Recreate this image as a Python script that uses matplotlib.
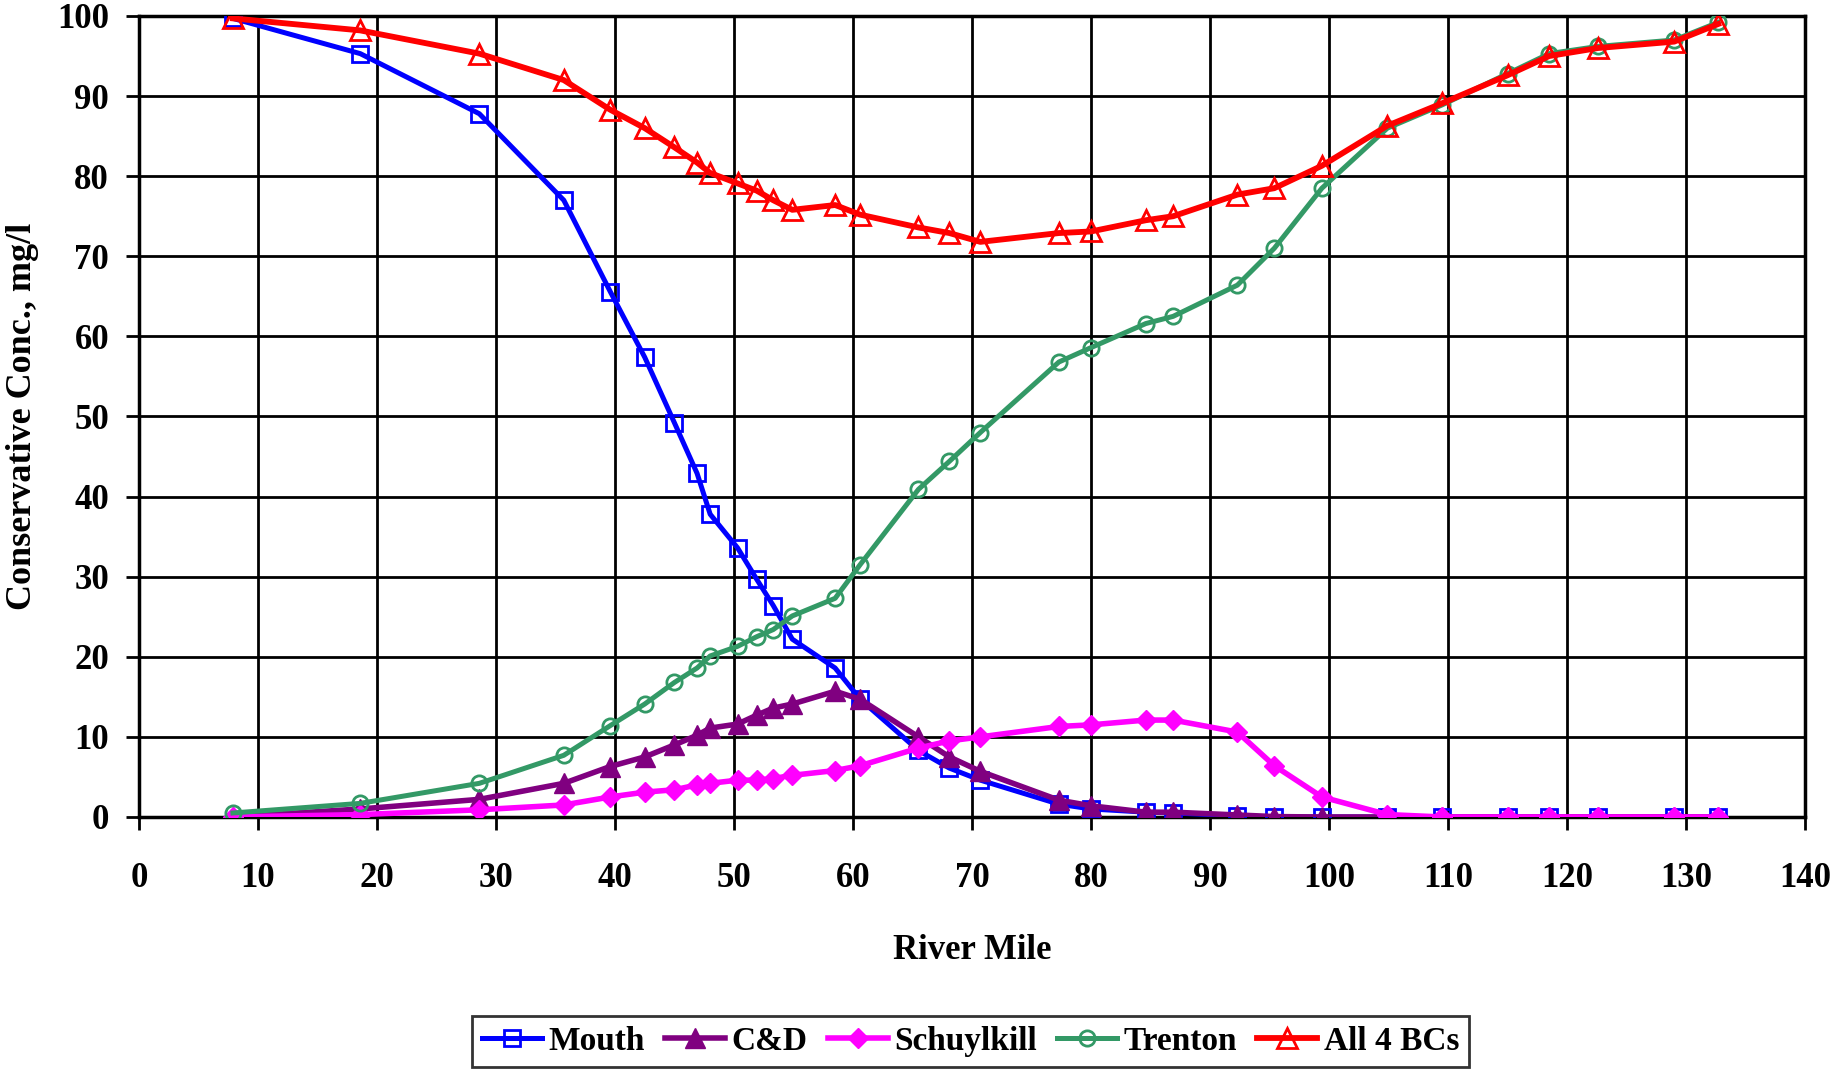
import matplotlib
matplotlib.use("Agg")
import matplotlib.pyplot as plt

plt.rcParams['font.family'] = ['Liberation Serif', 'DejaVu Serif']
plt.rcParams['font.weight'] = 'bold'

# river mile of each model output point
miles = [7.9, 18.6, 28.6, 35.7, 39.6, 42.5, 45.0, 46.9, 48.0, 50.3, 51.9, 53.3,
         54.9, 58.5, 60.6, 65.5, 68.1, 70.7, 77.3, 80.0, 84.6, 86.9, 92.3, 95.4,
         99.4, 104.9, 109.5, 115.0, 118.5, 122.6, 129.0, 132.7]

mouth = [99.7, 95.3, 87.8, 77.0, 65.6, 57.4, 49.2, 42.9, 37.8, 33.6, 29.7, 26.4,
         22.2, 18.6, 14.7, 8.3, 6.1, 4.6, 1.6, 1.0, 0.6, 0.5, 0.15, 0.0,
         0.0, 0.0, 0.0, 0.0, 0.0, 0.0, 0.0, 0.0]

cd = [0.0, 1.0, 2.2, 4.2, 6.3, 7.5, 9.0, 10.2, 11.1, 11.6, 12.7, 13.6,
      14.1, 15.7, 14.7, 10.0, 7.5, 5.7, 2.1, 1.4, 0.6, 0.6, 0.25, 0.05,
      0.0, 0.0, 0.0, 0.0, 0.0, 0.0, 0.0, 0.0]

schuylkill = [0.0, 0.3, 0.9, 1.5, 2.5, 3.1, 3.4, 4.0, 4.2, 4.6, 4.6, 4.8,
              5.2, 5.8, 6.4, 8.6, 9.5, 10.0, 11.3, 11.5, 12.1, 12.1, 10.6, 6.4,
              2.5, 0.3, 0.0, 0.0, 0.0, 0.0, 0.0, 0.0]

trenton = [0.5, 1.7, 4.2, 7.7, 11.4, 14.1, 16.8, 18.6, 20.1, 21.3, 22.5, 23.4,
           25.1, 27.3, 31.5, 40.9, 44.4, 48.0, 56.8, 58.6, 61.6, 62.5, 66.4, 71.0,
           78.5, 86.0, 88.9, 92.8, 95.3, 96.2, 97.0, 99.2]

all4 = [99.7, 98.2, 95.3, 92.0, 88.3, 86.0, 83.6, 81.7, 80.4, 79.1, 78.2, 77.0,
        75.8, 76.4, 75.2, 73.6, 72.9, 71.8, 72.9, 73.1, 74.5, 75.0, 77.7, 78.5,
        81.3, 86.3, 89.1, 92.6, 95.0, 96.0, 96.8, 99.0]

fig = plt.figure(figsize=(18.35, 10.73), dpi=100)
ax = fig.add_axes([0.0757, 0.2386, 0.9080, 0.7465])

ax.plot(miles, mouth, color='#0000FF', lw=3.6, marker='s', ms=11,
        mfc='none', mec='#0000FF', mew=2, label='Mouth', zorder=3)
ax.plot(miles, cd, color='#800080', lw=4.0, marker='^', ms=14,
        mfc='#800080', mec='#800080', label='C&D', zorder=4)
ax.plot(miles, schuylkill, color='#FF00FF', lw=4.0, marker='D', ms=10,
        mfc='#FF00FF', mec='#FF00FF', label='Schuylkill', zorder=5)
ax.plot(miles, trenton, color='#339966', lw=3.6, marker='o', ms=11,
        mfc='none', mec='#339966', mew=2, label='Trenton', zorder=6)
ax.plot(miles, all4, color='#FF0000', lw=4.2, marker='^', ms=14,
        mfc='none', mec='#FF0000', mew=2, label='All 4 BCs', zorder=7)

ax.set_xlim(0, 140)
ax.set_ylim(0, 100)
ax.set_xticks(range(0, 141, 10))
ax.set_yticks(range(0, 101, 10))
ax.grid(True, color='black', lw=2)
ax.set_axisbelow(True)
for s in ax.spines.values():
    s.set_linewidth(2.5)
ax.tick_params(axis='both', labelsize=25, width=2, length=9.5, direction='out')
ax.tick_params(axis='x', pad=23)
ax.tick_params(axis='y', pad=12)

ax.set_xlabel('River Mile', fontsize=25, fontweight='bold', labelpad=28)
ax.set_ylabel('Conservative Conc., mg/l', fontsize=26, fontweight='bold', labelpad=13)

leg = fig.legend(loc='center', bbox_to_anchor=(0.529, 0.0298), ncol=5,
                 fontsize=24, frameon=True, fancybox=False, handlelength=1.8,
                 handletextpad=0.2, columnspacing=0.6, borderpad=0.3)
leg.get_frame().set_edgecolor('black')
leg.get_frame().set_linewidth(2)

fig.savefig('out.png', dpi=100)
